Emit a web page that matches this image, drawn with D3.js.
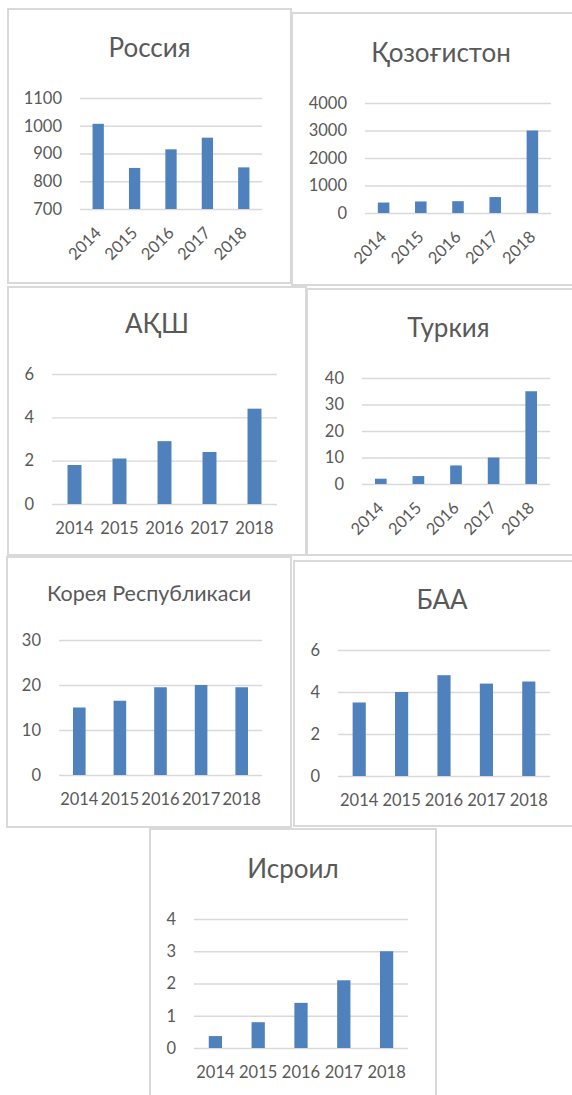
<!DOCTYPE html>
<html lang="uz">
<head>
    <meta charset="UTF-8">
    <title>Countries 2014-2018</title>
    <script src="https://d3js.org/d3.v7.min.js"></script>
    <style>
        body { margin: 0; background: #fff; }
        text { font-family: Lato, "Open Sans", sans-serif; fill: #595959; }
    </style>
</head>
<body>
<svg id="chart" width="572" height="1095"></svg>
<script>
    // data
    const years = ["2014", "2015", "2016", "2017", "2018"];

    const titles = ["Россия", "Қозоғистон", "АҚШ", "Туркия", "Корея Республикаси", "БАА", "Исроил"];

    const russia     = [1007, 848, 915, 957, 850];
    const kazakhstan = [380, 420, 430, 580, 3000];
    const usa        = [1.8, 2.1, 2.9, 2.4, 4.4];
    const turkey     = [2, 3, 7, 10, 35];
    const korea      = [15, 16.5, 19.5, 20, 19.5];
    const uae        = [3.5, 4, 4.8, 4.4, 4.5];
    const israel     = [0.37, 0.8, 1.4, 2.1, 3];

    const russiaTicks     = [700, 800, 900, 1000, 1100];
    const kazakhstanTicks = [0, 1000, 2000, 3000, 4000];
    const usaTicks        = [0, 2, 4, 6];
    const turkeyTicks     = [0, 10, 20, 30, 40];
    const koreaTicks      = [0, 10, 20, 30];
    const uaeTicks        = [0, 2, 4, 6];
    const israelTicks     = [0, 1, 2, 3, 4];

    const series = [russia, kazakhstan, usa, turkey, korea, uae, israel];
    const tickSets = [russiaTicks, kazakhstanTicks, usaTicks, turkeyTicks, koreaTicks, uaeTicks, israelTicks];

    // layout of each panel: box, plot area, title, whether x labels are rotated
    const panels = [
        { box: [8, 9, 291, 283],      plot: [80, 262, 98, 209],    titleY: 57,  titleSize: 26, rotate: true },
        { box: [292, 13, 590, 285],   plot: [365, 551, 103, 213],  titleY: 62,  titleSize: 26, rotate: true },
        { box: [8, 287, 306, 555],    plot: [52, 277, 374, 504],   titleY: 333, titleSize: 26, rotate: false },
        { box: [307, 289, 590, 555],  plot: [362, 550, 378, 484],  titleY: 337, titleSize: 26, rotate: true },
        { box: [7, 557, 291, 827],    plot: [59, 262, 640, 775],   titleY: 601, titleSize: 21.5, rotate: false },
        { box: [294, 561, 590, 826],  plot: [338, 550, 650, 776],  titleY: 609, titleSize: 26, rotate: false },
        { box: [150, 829, 436, 1110], plot: [194, 408, 919, 1048], titleY: 878, titleSize: 26, rotate: false }
    ];

    const svg = d3.select("#chart");

    panels.forEach((p, i) => {
        const [bx0, by0, bx1, by1] = p.box;
        const [left, right, top, bottom] = p.plot;
        const ticks = tickSets[i];
        const values = series[i];

        const g = svg.append("g");

        // panel frame
        g.append("rect")
            .attr("x", bx0).attr("y", by0)
            .attr("width", bx1 - bx0).attr("height", by1 - by0)
            .attr("fill", "#fff")
            .attr("stroke", "#d9d9d9")
            .attr("stroke-width", 2);

        // title
        g.append("text")
            .attr("x", (bx0 + bx1) / 2)
            .attr("y", p.titleY)
            .attr("text-anchor", "middle")
            .attr("font-size", p.titleSize + "px")
            .text(titles[i]);

        const x = d3.scaleBand()
            .domain(years)
            .range([left, right])
            .paddingInner(0.69)
            .paddingOuter(0.345);

        const y = d3.scaleLinear()
            .domain([ticks[0], ticks[ticks.length - 1]])
            .range([bottom, top]);

        // gridlines + y labels
        const yAxis = g.append("g")
            .attr("transform", `translate(${left},0)`)
            .call(d3.axisLeft(y).tickValues(ticks).tickFormat(d => d).tickSize(-(right - left)).tickPadding(18));
        yAxis.select(".domain").remove();
        yAxis.selectAll(".tick line").attr("stroke", "#d9d9d9").attr("stroke-width", 1.3);
        yAxis.attr("font-family", null).attr("font-size", null);
        yAxis.selectAll(".tick text")
            .attr("font-size", "16.5px")
            .attr("fill", "#595959");

        // bars
        g.selectAll(".bar")
            .data(values)
            .enter()
            .append("rect")
            .attr("x", (d, k) => x(years[k]))
            .attr("y", d => y(d))
            .attr("width", x.bandwidth())
            .attr("height", d => y(ticks[0]) - y(d))
            .attr("fill", "#4f81bd");

        // x labels
        const labels = g.selectAll(".xl")
            .data(years)
            .enter()
            .append("text")
            .attr("font-size", "16.5px")
            .text(d => d);

        if (p.rotate) {
            labels
                .attr("text-anchor", "end")
                .attr("transform", d => `translate(${x(d) + x.bandwidth() / 2 + 4},${bottom + 25}) rotate(-45)`);
        } else {
            labels
                .attr("text-anchor", "middle")
                .attr("x", d => x(d) + x.bandwidth() / 2)
                .attr("y", bottom + 30);
        }
    });
</script>
</body>
</html>
